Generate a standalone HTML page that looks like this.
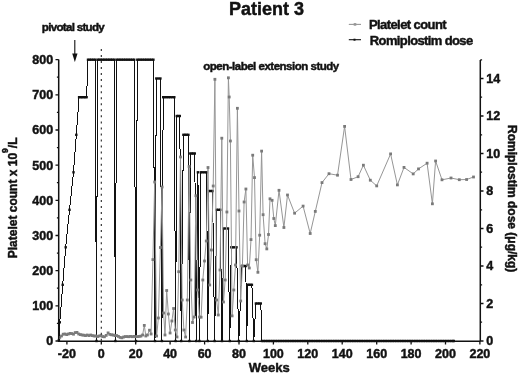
<!DOCTYPE html>
<html><head><meta charset="utf-8"><title>Patient 3</title>
<style>html,body{margin:0;padding:0;background:#fff;width:520px;height:374px;overflow:hidden} text{stroke:#111;stroke-width:0.45px;paint-order:stroke}</style>
</head><body>
<svg width="520" height="374" viewBox="0 0 520 374" style="display:block;position:absolute;left:0;top:0;filter:blur(0.3px)">
<rect width="520" height="374" fill="#fff"/>
<polyline points="58.9,340.1 59.8,322.2 62.7,284.8 65.7,247.2 69.5,209.8 73.5,172.2 76.3,134.8 79.1,97.2 80.6,97.2 82.1,97.2 83.6,97.2 85.1,97.2 86.6,97.2 88.0,59.8 89.8,59.8 91.5,59.8 93.3,59.8 95.1,59.8 96.5,341.0 97.5,59.8 99.2,59.8 100.8,59.8 102.5,59.8 104.1,59.8 105.8,59.8 107.5,59.8 109.1,59.8 110.8,59.8 112.4,59.8 114.1,59.8 115.4,341.0 116.5,59.8 118.3,59.8 120.0,59.8 121.8,59.8 123.6,59.8 125.3,59.8 127.1,59.8 128.9,59.8 130.7,59.8 132.4,59.8 134.2,59.8 136.0,341.0 137.3,59.8 139.1,59.8 140.9,59.8 142.7,59.8 144.5,59.8 146.2,59.8 148.0,59.8 149.8,59.8 151.6,59.8 153.4,59.8 155.0,341.0 156.3,78.5 158.4,78.5 160.4,78.5 161.9,341.0 163.2,97.2 165.0,97.2 166.9,97.2 168.8,97.2 170.6,97.2 172.5,97.2 174.3,97.2 175.6,341.0 176.8,116.0 178.3,116.0 179.8,116.0 181.2,341.0 183.4,134.8 185.1,134.8 186.7,134.8 188.4,134.8 189.4,341.0 190.3,153.5 191.8,153.5 193.3,153.5 194.8,153.5 196.2,341.0 197.9,172.2 199.4,341.0 200.8,172.2 202.7,172.2 204.7,172.2 206.6,172.2 207.8,341.0 209.0,191.0 210.8,191.0 212.6,191.0 214.6,341.0 216.8,209.8 218.5,209.8 220.2,209.8 222.0,341.0 223.8,228.5 225.9,228.5 228.0,228.5 229.8,341.0 231.3,247.2 233.0,247.2 234.8,247.2 236.5,247.2 238.8,341.0 241.8,266.0 243.8,266.0 245.8,266.0 246.8,341.0 247.6,284.8 249.0,284.8 250.5,284.8 251.9,284.8 253.8,341.0 255.9,303.5 257.5,303.5 259.2,303.5 260.8,303.5 262.0,341.0 263.7,341.0 265.4,341.0 267.2,341.0 268.9,341.0 270.6,341.0 272.3,341.0 274.0,341.0 275.8,341.0 277.5,341.0 279.2,341.0 280.9,341.0 282.7,341.0 284.4,341.0 286.1,341.0 287.8,341.0 289.5,341.0 291.3,341.0 293.0,341.0 294.7,341.0 296.4,341.0 298.1,341.0 299.9,341.0 301.6,341.0 303.3,341.0 305.0,341.0 306.7,341.0 308.5,341.0 310.2,341.0 311.9,341.0 313.6,341.0 315.4,341.0 317.1,341.0 318.8,341.0 320.5,341.0 322.2,341.0 324.0,341.0 325.7,341.0 327.4,341.0 329.1,341.0 330.8,341.0 332.6,341.0 334.3,341.0 336.0,341.0 337.7,341.0 339.4,341.0 341.2,341.0 342.9,341.0 344.6,341.0 346.3,341.0 348.1,341.0 349.8,341.0 351.5,341.0 353.2,341.0 354.9,341.0 356.7,341.0 358.4,341.0 360.1,341.0 361.8,341.0 363.5,341.0 365.3,341.0 367.0,341.0 368.7,341.0 370.4,341.0 372.1,341.0 373.9,341.0 375.6,341.0 377.3,341.0 379.0,341.0 380.7,341.0 382.5,341.0 384.2,341.0 385.9,341.0 387.6,341.0 389.4,341.0 391.1,341.0 392.8,341.0 394.5,341.0 396.2,341.0 398.0,341.0 399.7,341.0 401.4,341.0 403.1,341.0 404.8,341.0 406.6,341.0 408.3,341.0 410.0,341.0 411.7,341.0 413.4,341.0 415.2,341.0 416.9,341.0 418.6,341.0 420.3,341.0 422.1,341.0 423.8,341.0 425.5,341.0 427.2,341.0 428.9,341.0 430.7,341.0 432.4,341.0 434.1,341.0 435.8,341.0 437.5,341.0 439.3,341.0 441.0,341.0 442.7,341.0 444.4,341.0 446.1,341.0 447.9,341.0 449.6,341.0 451.3,341.0 453.0,341.0 453.8,341.0" fill="none" stroke="#111" stroke-width="1" stroke-linejoin="miter" shape-rendering="crispEdges"/>
<g fill="#111"><rect x="57.7" y="338.9" width="2.4" height="2.4"/><rect x="58.6" y="321.1" width="2.4" height="2.4"/><rect x="61.5" y="283.6" width="2.4" height="2.4"/><rect x="64.5" y="246.1" width="2.4" height="2.4"/><rect x="68.3" y="208.6" width="2.4" height="2.4"/><rect x="72.3" y="171.1" width="2.4" height="2.4"/><rect x="75.1" y="133.6" width="2.4" height="2.4"/><rect x="77.9" y="96.0" width="2.4" height="2.4"/><rect x="79.4" y="96.0" width="2.4" height="2.4"/><rect x="80.9" y="96.0" width="2.4" height="2.4"/><rect x="82.4" y="96.0" width="2.4" height="2.4"/><rect x="83.9" y="96.0" width="2.4" height="2.4"/><rect x="85.4" y="96.0" width="2.4" height="2.4"/><rect x="86.8" y="58.5" width="2.4" height="2.4"/><rect x="88.6" y="58.5" width="2.4" height="2.4"/><rect x="90.3" y="58.5" width="2.4" height="2.4"/><rect x="92.1" y="58.5" width="2.4" height="2.4"/><rect x="93.9" y="58.5" width="2.4" height="2.4"/><rect x="95.3" y="339.8" width="2.4" height="2.4"/><rect x="96.3" y="58.5" width="2.4" height="2.4"/><rect x="98.0" y="58.5" width="2.4" height="2.4"/><rect x="99.6" y="58.5" width="2.4" height="2.4"/><rect x="101.3" y="58.5" width="2.4" height="2.4"/><rect x="102.9" y="58.5" width="2.4" height="2.4"/><rect x="104.6" y="58.5" width="2.4" height="2.4"/><rect x="106.3" y="58.5" width="2.4" height="2.4"/><rect x="107.9" y="58.5" width="2.4" height="2.4"/><rect x="109.6" y="58.5" width="2.4" height="2.4"/><rect x="111.2" y="58.5" width="2.4" height="2.4"/><rect x="112.9" y="58.5" width="2.4" height="2.4"/><rect x="114.2" y="339.8" width="2.4" height="2.4"/><rect x="115.3" y="58.5" width="2.4" height="2.4"/><rect x="117.1" y="58.5" width="2.4" height="2.4"/><rect x="118.8" y="58.5" width="2.4" height="2.4"/><rect x="120.6" y="58.5" width="2.4" height="2.4"/><rect x="122.4" y="58.5" width="2.4" height="2.4"/><rect x="124.1" y="58.5" width="2.4" height="2.4"/><rect x="125.9" y="58.5" width="2.4" height="2.4"/><rect x="127.7" y="58.5" width="2.4" height="2.4"/><rect x="129.5" y="58.5" width="2.4" height="2.4"/><rect x="131.2" y="58.5" width="2.4" height="2.4"/><rect x="133.0" y="58.5" width="2.4" height="2.4"/><rect x="134.8" y="339.8" width="2.4" height="2.4"/><rect x="136.1" y="58.5" width="2.4" height="2.4"/><rect x="137.9" y="58.5" width="2.4" height="2.4"/><rect x="139.7" y="58.5" width="2.4" height="2.4"/><rect x="141.5" y="58.5" width="2.4" height="2.4"/><rect x="143.3" y="58.5" width="2.4" height="2.4"/><rect x="145.0" y="58.5" width="2.4" height="2.4"/><rect x="146.8" y="58.5" width="2.4" height="2.4"/><rect x="148.6" y="58.5" width="2.4" height="2.4"/><rect x="150.4" y="58.5" width="2.4" height="2.4"/><rect x="152.2" y="58.5" width="2.4" height="2.4"/><rect x="153.8" y="339.8" width="2.4" height="2.4"/><rect x="155.1" y="77.3" width="2.4" height="2.4"/><rect x="157.2" y="77.3" width="2.4" height="2.4"/><rect x="159.2" y="77.3" width="2.4" height="2.4"/><rect x="160.7" y="339.8" width="2.4" height="2.4"/><rect x="162.0" y="96.0" width="2.4" height="2.4"/><rect x="163.8" y="96.0" width="2.4" height="2.4"/><rect x="165.7" y="96.0" width="2.4" height="2.4"/><rect x="167.6" y="96.0" width="2.4" height="2.4"/><rect x="169.4" y="96.0" width="2.4" height="2.4"/><rect x="171.3" y="96.0" width="2.4" height="2.4"/><rect x="173.1" y="96.0" width="2.4" height="2.4"/><rect x="174.4" y="339.8" width="2.4" height="2.4"/><rect x="175.6" y="114.8" width="2.4" height="2.4"/><rect x="177.1" y="114.8" width="2.4" height="2.4"/><rect x="178.6" y="114.8" width="2.4" height="2.4"/><rect x="180.0" y="339.8" width="2.4" height="2.4"/><rect x="182.2" y="133.6" width="2.4" height="2.4"/><rect x="183.9" y="133.6" width="2.4" height="2.4"/><rect x="185.5" y="133.6" width="2.4" height="2.4"/><rect x="187.2" y="133.6" width="2.4" height="2.4"/><rect x="188.2" y="339.8" width="2.4" height="2.4"/><rect x="189.1" y="152.3" width="2.4" height="2.4"/><rect x="190.6" y="152.3" width="2.4" height="2.4"/><rect x="192.1" y="152.3" width="2.4" height="2.4"/><rect x="193.6" y="152.3" width="2.4" height="2.4"/><rect x="195.0" y="339.8" width="2.4" height="2.4"/><rect x="196.7" y="171.1" width="2.4" height="2.4"/><rect x="198.2" y="339.8" width="2.4" height="2.4"/><rect x="199.6" y="171.1" width="2.4" height="2.4"/><rect x="201.5" y="171.1" width="2.4" height="2.4"/><rect x="203.5" y="171.1" width="2.4" height="2.4"/><rect x="205.4" y="171.1" width="2.4" height="2.4"/><rect x="206.6" y="339.8" width="2.4" height="2.4"/><rect x="207.8" y="189.8" width="2.4" height="2.4"/><rect x="209.6" y="189.8" width="2.4" height="2.4"/><rect x="211.4" y="189.8" width="2.4" height="2.4"/><rect x="213.4" y="339.8" width="2.4" height="2.4"/><rect x="215.6" y="208.6" width="2.4" height="2.4"/><rect x="217.3" y="208.6" width="2.4" height="2.4"/><rect x="219.0" y="208.6" width="2.4" height="2.4"/><rect x="220.8" y="339.8" width="2.4" height="2.4"/><rect x="222.6" y="227.3" width="2.4" height="2.4"/><rect x="224.7" y="227.3" width="2.4" height="2.4"/><rect x="226.8" y="227.3" width="2.4" height="2.4"/><rect x="228.6" y="339.8" width="2.4" height="2.4"/><rect x="230.1" y="246.1" width="2.4" height="2.4"/><rect x="231.8" y="246.1" width="2.4" height="2.4"/><rect x="233.6" y="246.1" width="2.4" height="2.4"/><rect x="235.3" y="246.1" width="2.4" height="2.4"/><rect x="237.6" y="339.8" width="2.4" height="2.4"/><rect x="240.6" y="264.8" width="2.4" height="2.4"/><rect x="242.6" y="264.8" width="2.4" height="2.4"/><rect x="244.6" y="264.8" width="2.4" height="2.4"/><rect x="245.6" y="339.8" width="2.4" height="2.4"/><rect x="246.4" y="283.6" width="2.4" height="2.4"/><rect x="247.8" y="283.6" width="2.4" height="2.4"/><rect x="249.3" y="283.6" width="2.4" height="2.4"/><rect x="250.7" y="283.6" width="2.4" height="2.4"/><rect x="252.6" y="339.8" width="2.4" height="2.4"/><rect x="254.7" y="302.3" width="2.4" height="2.4"/><rect x="256.3" y="302.3" width="2.4" height="2.4"/><rect x="258.0" y="302.3" width="2.4" height="2.4"/><rect x="259.6" y="302.3" width="2.4" height="2.4"/><rect x="260.8" y="339.8" width="2.4" height="2.4"/><rect x="262.5" y="339.8" width="2.4" height="2.4"/><rect x="264.2" y="339.8" width="2.4" height="2.4"/><rect x="266.0" y="339.8" width="2.4" height="2.4"/><rect x="267.7" y="339.8" width="2.4" height="2.4"/><rect x="269.4" y="339.8" width="2.4" height="2.4"/><rect x="271.1" y="339.8" width="2.4" height="2.4"/><rect x="272.8" y="339.8" width="2.4" height="2.4"/><rect x="274.6" y="339.8" width="2.4" height="2.4"/><rect x="276.3" y="339.8" width="2.4" height="2.4"/><rect x="278.0" y="339.8" width="2.4" height="2.4"/><rect x="279.7" y="339.8" width="2.4" height="2.4"/><rect x="281.5" y="339.8" width="2.4" height="2.4"/><rect x="283.2" y="339.8" width="2.4" height="2.4"/><rect x="284.9" y="339.8" width="2.4" height="2.4"/><rect x="286.6" y="339.8" width="2.4" height="2.4"/><rect x="288.3" y="339.8" width="2.4" height="2.4"/><rect x="290.1" y="339.8" width="2.4" height="2.4"/><rect x="291.8" y="339.8" width="2.4" height="2.4"/><rect x="293.5" y="339.8" width="2.4" height="2.4"/><rect x="295.2" y="339.8" width="2.4" height="2.4"/><rect x="296.9" y="339.8" width="2.4" height="2.4"/><rect x="298.7" y="339.8" width="2.4" height="2.4"/><rect x="300.4" y="339.8" width="2.4" height="2.4"/><rect x="302.1" y="339.8" width="2.4" height="2.4"/><rect x="303.8" y="339.8" width="2.4" height="2.4"/><rect x="305.5" y="339.8" width="2.4" height="2.4"/><rect x="307.3" y="339.8" width="2.4" height="2.4"/><rect x="309.0" y="339.8" width="2.4" height="2.4"/><rect x="310.7" y="339.8" width="2.4" height="2.4"/><rect x="312.4" y="339.8" width="2.4" height="2.4"/><rect x="314.2" y="339.8" width="2.4" height="2.4"/><rect x="315.9" y="339.8" width="2.4" height="2.4"/><rect x="317.6" y="339.8" width="2.4" height="2.4"/><rect x="319.3" y="339.8" width="2.4" height="2.4"/><rect x="321.0" y="339.8" width="2.4" height="2.4"/><rect x="322.8" y="339.8" width="2.4" height="2.4"/><rect x="324.5" y="339.8" width="2.4" height="2.4"/><rect x="326.2" y="339.8" width="2.4" height="2.4"/><rect x="327.9" y="339.8" width="2.4" height="2.4"/><rect x="329.6" y="339.8" width="2.4" height="2.4"/><rect x="331.4" y="339.8" width="2.4" height="2.4"/><rect x="333.1" y="339.8" width="2.4" height="2.4"/><rect x="334.8" y="339.8" width="2.4" height="2.4"/><rect x="336.5" y="339.8" width="2.4" height="2.4"/><rect x="338.2" y="339.8" width="2.4" height="2.4"/><rect x="340.0" y="339.8" width="2.4" height="2.4"/><rect x="341.7" y="339.8" width="2.4" height="2.4"/><rect x="343.4" y="339.8" width="2.4" height="2.4"/><rect x="345.1" y="339.8" width="2.4" height="2.4"/><rect x="346.9" y="339.8" width="2.4" height="2.4"/><rect x="348.6" y="339.8" width="2.4" height="2.4"/><rect x="350.3" y="339.8" width="2.4" height="2.4"/><rect x="352.0" y="339.8" width="2.4" height="2.4"/><rect x="353.7" y="339.8" width="2.4" height="2.4"/><rect x="355.5" y="339.8" width="2.4" height="2.4"/><rect x="357.2" y="339.8" width="2.4" height="2.4"/><rect x="358.9" y="339.8" width="2.4" height="2.4"/><rect x="360.6" y="339.8" width="2.4" height="2.4"/><rect x="362.3" y="339.8" width="2.4" height="2.4"/><rect x="364.1" y="339.8" width="2.4" height="2.4"/><rect x="365.8" y="339.8" width="2.4" height="2.4"/><rect x="367.5" y="339.8" width="2.4" height="2.4"/><rect x="369.2" y="339.8" width="2.4" height="2.4"/><rect x="370.9" y="339.8" width="2.4" height="2.4"/><rect x="372.7" y="339.8" width="2.4" height="2.4"/><rect x="374.4" y="339.8" width="2.4" height="2.4"/><rect x="376.1" y="339.8" width="2.4" height="2.4"/><rect x="377.8" y="339.8" width="2.4" height="2.4"/><rect x="379.5" y="339.8" width="2.4" height="2.4"/><rect x="381.3" y="339.8" width="2.4" height="2.4"/><rect x="383.0" y="339.8" width="2.4" height="2.4"/><rect x="384.7" y="339.8" width="2.4" height="2.4"/><rect x="386.4" y="339.8" width="2.4" height="2.4"/><rect x="388.2" y="339.8" width="2.4" height="2.4"/><rect x="389.9" y="339.8" width="2.4" height="2.4"/><rect x="391.6" y="339.8" width="2.4" height="2.4"/><rect x="393.3" y="339.8" width="2.4" height="2.4"/><rect x="395.0" y="339.8" width="2.4" height="2.4"/><rect x="396.8" y="339.8" width="2.4" height="2.4"/><rect x="398.5" y="339.8" width="2.4" height="2.4"/><rect x="400.2" y="339.8" width="2.4" height="2.4"/><rect x="401.9" y="339.8" width="2.4" height="2.4"/><rect x="403.6" y="339.8" width="2.4" height="2.4"/><rect x="405.4" y="339.8" width="2.4" height="2.4"/><rect x="407.1" y="339.8" width="2.4" height="2.4"/><rect x="408.8" y="339.8" width="2.4" height="2.4"/><rect x="410.5" y="339.8" width="2.4" height="2.4"/><rect x="412.2" y="339.8" width="2.4" height="2.4"/><rect x="414.0" y="339.8" width="2.4" height="2.4"/><rect x="415.7" y="339.8" width="2.4" height="2.4"/><rect x="417.4" y="339.8" width="2.4" height="2.4"/><rect x="419.1" y="339.8" width="2.4" height="2.4"/><rect x="420.9" y="339.8" width="2.4" height="2.4"/><rect x="422.6" y="339.8" width="2.4" height="2.4"/><rect x="424.3" y="339.8" width="2.4" height="2.4"/><rect x="426.0" y="339.8" width="2.4" height="2.4"/><rect x="427.7" y="339.8" width="2.4" height="2.4"/><rect x="429.5" y="339.8" width="2.4" height="2.4"/><rect x="431.2" y="339.8" width="2.4" height="2.4"/><rect x="432.9" y="339.8" width="2.4" height="2.4"/><rect x="434.6" y="339.8" width="2.4" height="2.4"/><rect x="436.3" y="339.8" width="2.4" height="2.4"/><rect x="438.1" y="339.8" width="2.4" height="2.4"/><rect x="439.8" y="339.8" width="2.4" height="2.4"/><rect x="441.5" y="339.8" width="2.4" height="2.4"/><rect x="443.2" y="339.8" width="2.4" height="2.4"/><rect x="444.9" y="339.8" width="2.4" height="2.4"/><rect x="446.7" y="339.8" width="2.4" height="2.4"/><rect x="448.4" y="339.8" width="2.4" height="2.4"/><rect x="450.1" y="339.8" width="2.4" height="2.4"/><rect x="451.8" y="339.8" width="2.4" height="2.4"/><rect x="452.6" y="339.8" width="2.4" height="2.4"/></g>
<polyline points="59.8,337.4 61.5,336.0 63.2,334.2 65.0,334.0 66.7,334.6 68.4,334.0 70.1,333.4 71.8,333.6 73.5,334.2 75.2,332.6 77.0,332.4 78.7,334.0 80.4,334.6 82.1,335.0 83.8,335.2 85.5,335.6 87.2,335.0 89.0,335.6 90.7,335.0 92.4,335.6 94.1,336.0 95.8,336.0 97.5,336.5 99.2,336.0 101.0,335.6 102.7,336.6 104.4,336.8 106.2,335.4 108.1,332.9 109.8,334.4 111.5,334.8 113.2,335.0 115.0,335.6 116.7,335.6 118.4,336.4 120.1,337.4 121.9,337.8 123.6,337.0 125.3,336.6 127.0,336.6 128.7,336.7 130.5,336.4 132.3,336.7 134.0,336.4 135.7,336.7 137.4,336.6 139.2,336.4 140.9,336.1 142.6,335.0 144.3,325.4 145.8,336.0 147.4,335.0 149.5,330.2 151.1,334.0 152.9,259.6 154.7,182.0 156.6,336.0 158.4,318.0 160.4,247.5 162.1,187.0 163.6,313.0 165.0,335.0 166.7,290.5 168.4,314.0 170.1,333.0 171.9,321.0 173.6,308.5 175.3,330.0 177.0,337.0 178.7,271.7 180.5,157.0 182.2,300.0 183.9,330.0 185.6,337.0 187.3,300.0 189.1,166.5 190.8,280.0 192.5,322.5 194.2,317.0 195.9,195.7 197.7,290.0 199.4,317.0 201.1,317.2 202.8,280.0 204.5,261.0 206.3,241.0 208.0,167.5 209.7,285.0 211.4,250.0 213.2,186.0 214.9,79.3 216.6,300.0 218.3,315.0 220.0,270.0 221.8,138.2 223.5,302.0 225.2,280.0 226.9,212.0 228.4,77.8 229.2,97.0 230.4,141.0 232.1,315.9 233.8,290.0 235.5,265.0 237.4,108.3 239.0,211.0 240.7,301.0 242.4,266.0 244.1,202.0 245.9,189.0 247.6,265.0 249.3,268.0 251.0,239.6 252.7,155.2 254.5,177.6 256.2,259.7 257.9,272.3 259.7,235.2 261.6,151.1 263.1,214.7 265.1,243.7 266.8,248.9 268.5,234.5 270.0,198.8 272.1,200.3 273.8,218.5 275.3,225.6 279.0,190.3 283.9,227.5 287.5,195.0 294.6,213.2 303.1,206.1 310.2,233.5 315.3,211.4 322.0,182.6 329.0,173.7 337.5,175.2 344.6,126.4 351.0,179.5 358.1,176.7 363.4,165.2 370.3,180.2 376.7,185.9 390.6,153.9 397.4,184.9 404.0,167.4 413.2,173.9 418.5,168.9 427.1,163.2 432.4,203.8 435.6,161.0 442.0,179.8 451.0,178.0 459.3,179.7 466.6,179.5 473.5,177.0" fill="none" stroke="#969696" stroke-width="1" stroke-linejoin="miter"/>
<g fill="#7a7a7a"><rect x="58.4" y="336.0" width="2.8" height="2.8"/><rect x="60.1" y="334.6" width="2.8" height="2.8"/><rect x="61.8" y="332.8" width="2.8" height="2.8"/><rect x="63.6" y="332.6" width="2.8" height="2.8"/><rect x="65.3" y="333.2" width="2.8" height="2.8"/><rect x="67.0" y="332.6" width="2.8" height="2.8"/><rect x="68.7" y="332.0" width="2.8" height="2.8"/><rect x="70.4" y="332.2" width="2.8" height="2.8"/><rect x="72.1" y="332.8" width="2.8" height="2.8"/><rect x="73.8" y="331.2" width="2.8" height="2.8"/><rect x="75.6" y="331.0" width="2.8" height="2.8"/><rect x="77.3" y="332.6" width="2.8" height="2.8"/><rect x="79.0" y="333.2" width="2.8" height="2.8"/><rect x="80.7" y="333.6" width="2.8" height="2.8"/><rect x="82.4" y="333.8" width="2.8" height="2.8"/><rect x="84.1" y="334.2" width="2.8" height="2.8"/><rect x="85.8" y="333.6" width="2.8" height="2.8"/><rect x="87.6" y="334.2" width="2.8" height="2.8"/><rect x="89.3" y="333.6" width="2.8" height="2.8"/><rect x="91.0" y="334.2" width="2.8" height="2.8"/><rect x="92.7" y="334.6" width="2.8" height="2.8"/><rect x="94.4" y="334.6" width="2.8" height="2.8"/><rect x="96.1" y="335.1" width="2.8" height="2.8"/><rect x="97.8" y="334.6" width="2.8" height="2.8"/><rect x="99.6" y="334.2" width="2.8" height="2.8"/><rect x="101.3" y="335.2" width="2.8" height="2.8"/><rect x="103.0" y="335.4" width="2.8" height="2.8"/><rect x="104.8" y="334.0" width="2.8" height="2.8"/><rect x="106.7" y="331.5" width="2.8" height="2.8"/><rect x="108.4" y="333.0" width="2.8" height="2.8"/><rect x="110.1" y="333.4" width="2.8" height="2.8"/><rect x="111.8" y="333.6" width="2.8" height="2.8"/><rect x="113.6" y="334.2" width="2.8" height="2.8"/><rect x="115.3" y="334.2" width="2.8" height="2.8"/><rect x="117.0" y="335.0" width="2.8" height="2.8"/><rect x="118.7" y="336.0" width="2.8" height="2.8"/><rect x="120.5" y="336.4" width="2.8" height="2.8"/><rect x="122.2" y="335.6" width="2.8" height="2.8"/><rect x="123.9" y="335.2" width="2.8" height="2.8"/><rect x="125.6" y="335.2" width="2.8" height="2.8"/><rect x="127.3" y="335.3" width="2.8" height="2.8"/><rect x="129.1" y="335.0" width="2.8" height="2.8"/><rect x="130.9" y="335.3" width="2.8" height="2.8"/><rect x="132.6" y="335.0" width="2.8" height="2.8"/><rect x="134.3" y="335.3" width="2.8" height="2.8"/><rect x="136.0" y="335.2" width="2.8" height="2.8"/><rect x="137.8" y="335.0" width="2.8" height="2.8"/><rect x="139.5" y="334.7" width="2.8" height="2.8"/><rect x="141.2" y="333.6" width="2.8" height="2.8"/><rect x="142.9" y="324.0" width="2.8" height="2.8"/><rect x="144.4" y="334.6" width="2.8" height="2.8"/><rect x="146.0" y="333.6" width="2.8" height="2.8"/><rect x="148.1" y="328.8" width="2.8" height="2.8"/><rect x="149.7" y="332.6" width="2.8" height="2.8"/><rect x="151.5" y="258.2" width="2.8" height="2.8"/><rect x="153.3" y="180.6" width="2.8" height="2.8"/><rect x="155.2" y="334.6" width="2.8" height="2.8"/><rect x="157.0" y="316.6" width="2.8" height="2.8"/><rect x="159.0" y="246.1" width="2.8" height="2.8"/><rect x="160.7" y="185.6" width="2.8" height="2.8"/><rect x="162.2" y="311.6" width="2.8" height="2.8"/><rect x="163.6" y="333.6" width="2.8" height="2.8"/><rect x="165.3" y="289.1" width="2.8" height="2.8"/><rect x="167.0" y="312.6" width="2.8" height="2.8"/><rect x="168.7" y="331.6" width="2.8" height="2.8"/><rect x="170.5" y="319.6" width="2.8" height="2.8"/><rect x="172.2" y="307.1" width="2.8" height="2.8"/><rect x="173.9" y="328.6" width="2.8" height="2.8"/><rect x="175.6" y="335.6" width="2.8" height="2.8"/><rect x="177.3" y="270.3" width="2.8" height="2.8"/><rect x="179.1" y="155.6" width="2.8" height="2.8"/><rect x="180.8" y="298.6" width="2.8" height="2.8"/><rect x="182.5" y="328.6" width="2.8" height="2.8"/><rect x="184.2" y="335.6" width="2.8" height="2.8"/><rect x="185.9" y="298.6" width="2.8" height="2.8"/><rect x="187.7" y="165.1" width="2.8" height="2.8"/><rect x="189.4" y="278.6" width="2.8" height="2.8"/><rect x="191.1" y="321.1" width="2.8" height="2.8"/><rect x="192.8" y="315.6" width="2.8" height="2.8"/><rect x="194.5" y="194.3" width="2.8" height="2.8"/><rect x="196.3" y="288.6" width="2.8" height="2.8"/><rect x="198.0" y="315.6" width="2.8" height="2.8"/><rect x="199.7" y="315.8" width="2.8" height="2.8"/><rect x="201.4" y="278.6" width="2.8" height="2.8"/><rect x="203.1" y="259.6" width="2.8" height="2.8"/><rect x="204.9" y="239.6" width="2.8" height="2.8"/><rect x="206.6" y="166.1" width="2.8" height="2.8"/><rect x="208.3" y="283.6" width="2.8" height="2.8"/><rect x="210.0" y="248.6" width="2.8" height="2.8"/><rect x="211.8" y="184.6" width="2.8" height="2.8"/><rect x="213.5" y="77.9" width="2.8" height="2.8"/><rect x="215.2" y="298.6" width="2.8" height="2.8"/><rect x="216.9" y="313.6" width="2.8" height="2.8"/><rect x="218.6" y="268.6" width="2.8" height="2.8"/><rect x="220.4" y="136.8" width="2.8" height="2.8"/><rect x="222.1" y="300.6" width="2.8" height="2.8"/><rect x="223.8" y="278.6" width="2.8" height="2.8"/><rect x="225.5" y="210.6" width="2.8" height="2.8"/><rect x="227.0" y="76.4" width="2.8" height="2.8"/><rect x="227.8" y="95.6" width="2.8" height="2.8"/><rect x="229.0" y="139.6" width="2.8" height="2.8"/><rect x="230.7" y="314.5" width="2.8" height="2.8"/><rect x="232.4" y="288.6" width="2.8" height="2.8"/><rect x="234.1" y="263.6" width="2.8" height="2.8"/><rect x="236.0" y="106.9" width="2.8" height="2.8"/><rect x="237.6" y="209.6" width="2.8" height="2.8"/><rect x="239.3" y="299.6" width="2.8" height="2.8"/><rect x="241.0" y="264.6" width="2.8" height="2.8"/><rect x="242.7" y="200.6" width="2.8" height="2.8"/><rect x="244.5" y="187.6" width="2.8" height="2.8"/><rect x="246.2" y="263.6" width="2.8" height="2.8"/><rect x="247.9" y="266.6" width="2.8" height="2.8"/><rect x="249.6" y="238.2" width="2.8" height="2.8"/><rect x="251.3" y="153.8" width="2.8" height="2.8"/><rect x="253.1" y="176.2" width="2.8" height="2.8"/><rect x="254.8" y="258.3" width="2.8" height="2.8"/><rect x="256.5" y="270.9" width="2.8" height="2.8"/><rect x="258.3" y="233.8" width="2.8" height="2.8"/><rect x="260.2" y="149.7" width="2.8" height="2.8"/><rect x="261.7" y="213.3" width="2.8" height="2.8"/><rect x="263.7" y="242.3" width="2.8" height="2.8"/><rect x="265.4" y="247.5" width="2.8" height="2.8"/><rect x="267.1" y="233.1" width="2.8" height="2.8"/><rect x="268.6" y="197.4" width="2.8" height="2.8"/><rect x="270.7" y="198.9" width="2.8" height="2.8"/><rect x="272.4" y="217.1" width="2.8" height="2.8"/><rect x="273.9" y="224.2" width="2.8" height="2.8"/><rect x="277.6" y="188.9" width="2.8" height="2.8"/><rect x="282.5" y="226.1" width="2.8" height="2.8"/><rect x="286.1" y="193.6" width="2.8" height="2.8"/><rect x="293.2" y="211.8" width="2.8" height="2.8"/><rect x="301.7" y="204.7" width="2.8" height="2.8"/><rect x="308.8" y="232.1" width="2.8" height="2.8"/><rect x="313.9" y="210.0" width="2.8" height="2.8"/><rect x="320.6" y="181.2" width="2.8" height="2.8"/><rect x="327.6" y="172.3" width="2.8" height="2.8"/><rect x="336.1" y="173.8" width="2.8" height="2.8"/><rect x="343.2" y="125.0" width="2.8" height="2.8"/><rect x="349.6" y="178.1" width="2.8" height="2.8"/><rect x="356.7" y="175.3" width="2.8" height="2.8"/><rect x="362.0" y="163.8" width="2.8" height="2.8"/><rect x="368.9" y="178.8" width="2.8" height="2.8"/><rect x="375.3" y="184.5" width="2.8" height="2.8"/><rect x="389.2" y="152.5" width="2.8" height="2.8"/><rect x="396.0" y="183.5" width="2.8" height="2.8"/><rect x="402.6" y="166.0" width="2.8" height="2.8"/><rect x="411.8" y="172.5" width="2.8" height="2.8"/><rect x="417.1" y="167.5" width="2.8" height="2.8"/><rect x="425.7" y="161.8" width="2.8" height="2.8"/><rect x="431.0" y="202.4" width="2.8" height="2.8"/><rect x="434.2" y="159.6" width="2.8" height="2.8"/><rect x="440.6" y="178.4" width="2.8" height="2.8"/><rect x="449.6" y="176.6" width="2.8" height="2.8"/><rect x="457.9" y="178.3" width="2.8" height="2.8"/><rect x="465.2" y="178.1" width="2.8" height="2.8"/><rect x="472.1" y="175.6" width="2.8" height="2.8"/></g>
<line x1="101.3" y1="48.9" x2="101.3" y2="341" stroke="#222" stroke-width="1.1" stroke-dasharray="2 4.04"/>
<path d="M58.7,59.4 V341.2 H480.3 M480.3,60 V341.2" fill="none" stroke="#111" stroke-width="1.5"/>
<path d="M55.5,341.0H58.7M56.9,323.4H58.7M55.5,305.8H58.7M56.9,288.2H58.7M55.5,270.7H58.7M56.9,253.1H58.7M55.5,235.5H58.7M56.9,217.9H58.7M55.5,200.3H58.7M56.9,182.7H58.7M55.5,165.2H58.7M56.9,147.6H58.7M55.5,130.0H58.7M56.9,112.4H58.7M55.5,94.8H58.7M56.9,77.2H58.7M55.5,59.6H58.7M480.3,341.0h3.2M480.3,322.2h1.8M480.3,303.5h3.2M480.3,284.8h1.8M480.3,266.0h3.2M480.3,247.2h1.8M480.3,228.5h3.2M480.3,209.8h1.8M480.3,191.0h3.2M480.3,172.2h1.8M480.3,153.5h3.2M480.3,134.8h1.8M480.3,116.0h3.2M480.3,97.2h1.8M480.3,78.5h3.2M480.3,59.8h1.8M66.9,341.2V344.6M101.3,341.2V344.6M135.7,341.2V344.6M170.1,341.2V344.6M204.6,341.2V344.6M239.0,341.2V344.6M273.4,341.2V344.6M307.8,341.2V344.6M342.2,341.2V344.6M376.7,341.2V344.6M411.1,341.2V344.6M445.5,341.2V344.6M479.9,341.2V344.6" stroke="#111" stroke-width="1.3" fill="none"/>
<g font-family="'Liberation Sans', Arial, sans-serif" font-weight="bold" font-size="12.5" fill="#111"><text x="53.2" y="345.3" text-anchor="end">0</text><text x="53.2" y="310.1" text-anchor="end">100</text><text x="53.2" y="275.0" text-anchor="end">200</text><text x="53.2" y="239.8" text-anchor="end">300</text><text x="53.2" y="204.6" text-anchor="end">400</text><text x="53.2" y="169.5" text-anchor="end">500</text><text x="53.2" y="134.3" text-anchor="end">600</text><text x="53.2" y="99.1" text-anchor="end">700</text><text x="53.2" y="63.9" text-anchor="end">800</text><text x="486.2" y="345.3">0</text><text x="486.2" y="307.8">2</text><text x="486.2" y="270.3">4</text><text x="486.2" y="232.8">6</text><text x="486.2" y="195.3">8</text><text x="486.2" y="157.8">10</text><text x="486.2" y="120.3">12</text><text x="486.2" y="82.8">14</text><text x="66.9" y="358" text-anchor="middle">-20</text><text x="101.3" y="358" text-anchor="middle">0</text><text x="135.7" y="358" text-anchor="middle">20</text><text x="170.1" y="358" text-anchor="middle">40</text><text x="204.6" y="358" text-anchor="middle">60</text><text x="239.0" y="358" text-anchor="middle">80</text><text x="273.4" y="358" text-anchor="middle">100</text><text x="307.8" y="358" text-anchor="middle">120</text><text x="342.2" y="358" text-anchor="middle">140</text><text x="376.7" y="358" text-anchor="middle">160</text><text x="411.1" y="358" text-anchor="middle">180</text><text x="445.5" y="358" text-anchor="middle">200</text><text x="479.9" y="358" text-anchor="middle">220</text></g>
<text x="266.4" y="15.3" text-anchor="middle" font-family="'Liberation Sans', Arial, sans-serif" font-weight="bold" font-size="18" fill="#111">Patient 3</text>
<text x="269.2" y="372" text-anchor="middle" font-family="'Liberation Sans', Arial, sans-serif" font-weight="bold" font-size="13" fill="#111">Weeks</text>
<text transform="translate(17,258.3) rotate(-90)" font-family="'Liberation Sans', Arial, sans-serif" font-weight="bold" font-size="12" fill="#111">Platelet count x 10<tspan font-size="8.5" dy="-9.2">9</tspan><tspan dy="9.2">/L</tspan></text>
<text transform="translate(508,125) rotate(90)" font-family="'Liberation Sans', Arial, sans-serif" font-weight="bold" font-size="12" fill="#111">Romiplostim dose (μg/kg)</text>
<text x="41.8" y="31" font-family="'Liberation Sans', Arial, sans-serif" font-weight="bold" font-size="11.6" fill="#111" textLength="63" lengthAdjust="spacing">pivotal study</text>
<path d="M74.8,40 V54" stroke="#111" stroke-width="1.1"/><path d="M72.2,53.4 L77.5,53.4 L74.85,62 Z" fill="#111"/>
<text x="203.2" y="69.7" font-family="'Liberation Sans', Arial, sans-serif" font-weight="bold" font-size="11.5" fill="#111" textLength="136" lengthAdjust="spacing">open-label extension study</text>
<path d="M348.8,24.4 H361" stroke="#969696" stroke-width="1.1"/><rect x="353.7" y="23.1" width="2.6" height="2.6" fill="#969696"/>
<text x="368.9" y="29.2" font-family="'Liberation Sans', Arial, sans-serif" font-weight="bold" font-size="13" fill="#111" textLength="77.8" lengthAdjust="spacing">Platelet count</text>
<path d="M348.8,39.7 H361" stroke="#111" stroke-width="1.1"/><rect x="353.5" y="38.7" width="2" height="2" fill="#111"/>
<text x="369.8" y="44.7" font-family="'Liberation Sans', Arial, sans-serif" font-weight="bold" font-size="13" fill="#111" textLength="103.4" lengthAdjust="spacing">Romiplostim dose</text>
</svg>
</body></html>
